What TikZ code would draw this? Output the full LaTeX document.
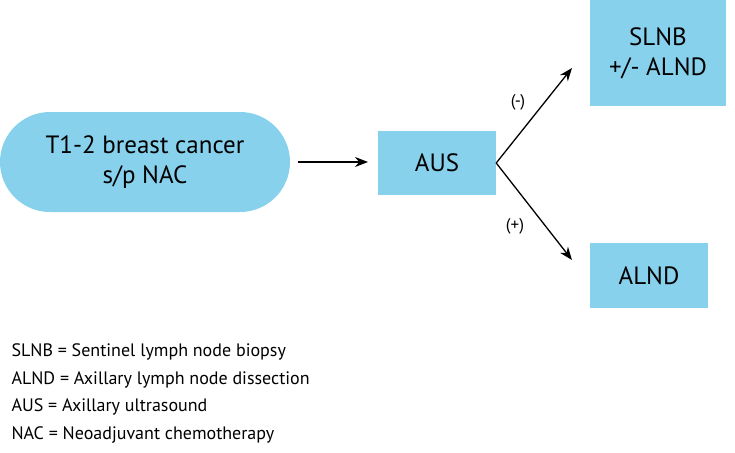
\documentclass[tikz,border=0pt]{standalone}
\usepackage{fontspec}
\setmainfont{PT Sans}
\usetikzlibrary{arrows.meta}
\definecolor{boxblue}{RGB}{135,209,236}
\begin{document}
\begin{tikzpicture}[x=1pt,y=-1pt,
  box/.style={fill=boxblue,draw=none,inner sep=0pt,align=center,font=\fontsize{25}{30}\selectfont},
  arr/.style={-{Stealth[length=13pt,width=10pt]},line width=1.3pt},
  lab/.style={font=\fontsize{17}{20}\selectfont},
  leg/.style={font=\fontsize{18}{23}\selectfont,anchor=west}]
\useasboundingbox (0,0) rectangle (735,452);
\node[box,rounded corners=50pt,minimum width=290pt,minimum height=100pt] (t) at (145,162) {T1-2 breast cancer\\s/p NAC};
\node[box,minimum width=118pt,minimum height=64pt] (aus) at (437,163) {AUS};
\node[box,minimum width=136pt,minimum height=106pt] (slnb) at (658,53) {SLNB\\+/- ALND};
\node[box,minimum width=118pt,minimum height=65pt] (alnd) at (649,275.5) {ALND};
\coordinate (a1) at (298,162);
\coordinate (a2) at (368,162);
\coordinate (up) at (572,68);
\coordinate (dn) at (572,260);
\draw[arr] (a1) -- (a2);
\draw[arr] (aus.east) -- (up);
\draw[arr] (aus.east) -- (dn);
\node[lab] (m) at (518,102) {(-)};
\node[lab] (p) at (515,226) {(+)};
\node[leg] (l1) at (8,352) {SLNB = Sentinel lymph node biopsy};
\node[leg] (l2) at (8,380) {ALND = Axillary lymph node dissection};
\node[leg] (l3) at (8,407) {AUS = Axillary ultrasound};
\node[leg] (l4) at (8,435) {NAC = Neoadjuvant chemotherapy};
\end{tikzpicture}
\end{document}
